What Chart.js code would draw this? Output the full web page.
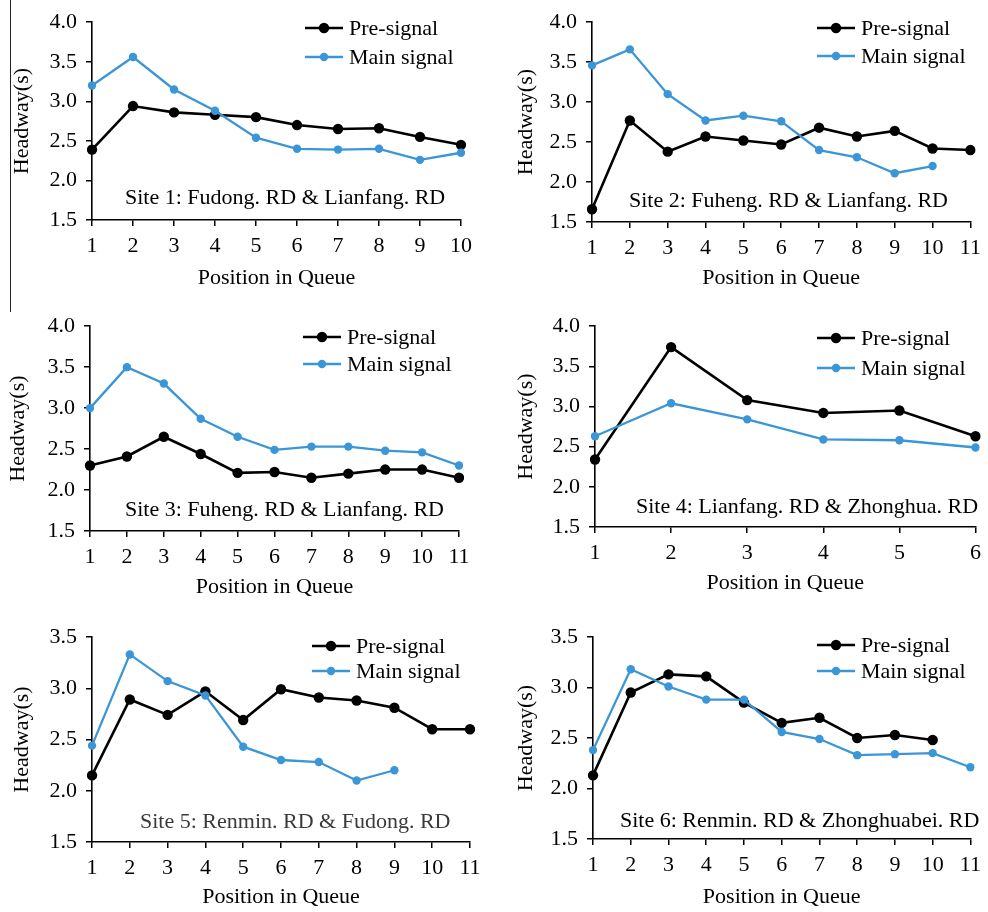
<!DOCTYPE html>
<html>
<head>
<meta charset="utf-8">
<title>Headway by queue position at six pre-signal sites</title>
<script src="https://cdn.jsdelivr.net/npm/chart.js@4/dist/chart.umd.min.js"></script>
<style>
  html, body { margin: 0; padding: 0; background: #fff; }
  #page { position: relative; width: 988px; height: 912px; overflow: hidden; background: #fff; }
  .cell { position: absolute; width: 494px; height: 304px; }
  .cell canvas { display: block; }
  #edge { position: absolute; left: 10px; top: 0; width: 1px; height: 312px; background: #222; }
</style>
</head>
<body>
<div id="page">
  <div id="edge"></div>
  <div class="cell" style="left:0;top:0"><canvas id="c1" width="494" height="304"></canvas></div>
  <div class="cell" style="left:494px;top:0"><canvas id="c2" width="494" height="304"></canvas></div>
  <div class="cell" style="left:0;top:304px"><canvas id="c3" width="494" height="304"></canvas></div>
  <div class="cell" style="left:494px;top:304px"><canvas id="c4" width="494" height="304"></canvas></div>
  <div class="cell" style="left:0;top:608px"><canvas id="c5" width="494" height="304"></canvas></div>
  <div class="cell" style="left:494px;top:608px"><canvas id="c6" width="494" height="304"></canvas></div>
</div>
<script>
// Queue positions (x-axis categories)
const queue6  = ['1', '2', '3', '4', '5', '6'];
const queue10 = ['1', '2', '3', '4', '5', '6', '7', '8', '9', '10'];
const queue11 = ['1', '2', '3', '4', '5', '6', '7', '8', '9', '10', '11'];

// Mean headway (s) per queue position
const site1Pre  = [2.39, 2.94, 2.86, 2.83, 2.80, 2.70, 2.65, 2.66, 2.55, 2.45];
const site1Main = [3.20, 3.56, 3.15, 2.88, 2.54, 2.40, 2.39, 2.40, 2.26, 2.35];

const site2Pre  = [1.66, 2.77, 2.38, 2.57, 2.52, 2.47, 2.68, 2.57, 2.64, 2.42, 2.40];
const site2Main = [3.46, 3.66, 3.10, 2.77, 2.83, 2.76, 2.40, 2.31, 2.11, 2.20];

const site3Pre  = [2.30, 2.41, 2.65, 2.44, 2.21, 2.22, 2.15, 2.20, 2.25, 2.25, 2.15];
const site3Main = [3.00, 3.50, 3.30, 2.87, 2.65, 2.49, 2.53, 2.53, 2.48, 2.46, 2.30];

const site4Pre  = [2.34, 3.74, 3.08, 2.92, 2.95, 2.63];
const site4Main = [2.63, 3.04, 2.84, 2.59, 2.58, 2.49];

const site5Pre  = [2.15, 2.89, 2.74, 2.97, 2.69, 2.99, 2.91, 2.88, 2.81, 2.60, 2.60];
const site5Main = [2.44, 3.33, 3.07, 2.93, 2.43, 2.30, 2.28, 2.10, 2.20];

const site6Pre  = [2.13, 2.95, 3.13, 3.11, 2.85, 2.65, 2.70, 2.50, 2.53, 2.48];
const site6Main = [2.38, 3.18, 3.01, 2.88, 2.88, 2.56, 2.49, 2.33, 2.34, 2.35, 2.21];

// Site names
const siteNames = [
  'Site 1: Fudong. RD & Lianfang. RD',
  'Site 2: Fuheng. RD & Lianfang. RD',
  'Site 3: Fuheng. RD & Lianfang. RD',
  'Site 4: Lianfang. RD & Zhonghua. RD',
  'Site 5: Renmin. RD & Fudong. RD',
  'Site 6: Renmin. RD & Zhonghuabei. RD'
];

const seriesNames = ['Pre-signal', 'Main signal'];
const xTitle = 'Position in Queue';
const yTitle = 'Headway(s)';

const FAMILY = "'Liberation Serif', 'Times New Roman', Times, serif";
const FONT_SIZE = 22;
const LINE_H = FONT_SIZE * 1.2;
const W = 494, H = 304, XH = 72;
const BLUE = '#3a96d6';

// Layout of each panel: plot area box (canvas px), legend spot, site-name spot
const panels = [
  { id: 'c1', labels: queue10, pre: site1Pre, main: site1Main, name: siteNames[0], yMax: 4.0,
    box: { l: 92, t: 17, r: 461, b: 220 }, xTitleOff: 58, yTitleX: 22,
    legend: { x: 305, y: [28, 57] }, note: { x: 125, y: 198, color: '#000' } },
  { id: 'c2', labels: queue11, pre: site2Pre, main: site2Main, name: siteNames[1], yMax: 4.0,
    box: { l: 98, t: 17, r: 480, b: 222 }, xTitleOff: 56, yTitleX: 32,
    legend: { x: 323, y: [28, 56] }, note: { x: 135, y: 201, color: '#000' } },
  { id: 'c3', labels: queue11, pre: site3Pre, main: site3Main, name: siteNames[2], yMax: 4.0,
    box: { l: 90, t: 22, r: 459, b: 227 }, xTitleOff: 56, yTitleX: 18,
    legend: { x: 303, y: [33, 60] }, note: { x: 125, y: 206, color: '#000' } },
  { id: 'c4', labels: queue6, pre: site4Pre, main: site4Main, name: siteNames[3], yMax: 4.0,
    box: { l: 101, t: 22, r: 487, b: 223 }, xTitleOff: 56, yTitleX: 32,
    legend: { x: 323, y: [34, 64] }, note: { x: 142, y: 203, color: '#000' } },
  { id: 'c5', labels: queue11, pre: site5Pre, main: site5Main, name: siteNames[4], yMax: 3.5,
    box: { l: 92, t: 29, r: 470, b: 234 }, xTitleOff: 55, yTitleX: 22,
    legend: { x: 312, y: [38, 63] }, note: { x: 140, y: 214, color: '#3a3a3a' } },
  { id: 'c6', labels: queue11, pre: site6Pre, main: site6Main, name: siteNames[5], yMax: 3.5,
    box: { l: 99, t: 29, r: 480, b: 231 }, xTitleOff: 58, yTitleX: 32,
    legend: { x: 323, y: [37, 63] }, note: { x: 126, y: 213, color: '#000' } }
];

// Legend entries (line + dot + label) and the site name inside the plot
const overlay = {
  id: 'overlay',
  afterDatasetsDraw(chart, args, opts) {
    const ctx = chart.ctx;
    ctx.save();
    ctx.font = FONT_SIZE + 'px ' + FAMILY;
    ctx.textBaseline = 'middle';
    ctx.textAlign = 'left';
    chart.data.datasets.forEach((ds, i) => {
      const y = opts.legend.y[i];
      const x0 = opts.legend.x;
      ctx.strokeStyle = ds.borderColor;
      ctx.lineWidth = ds.borderWidth;
      ctx.beginPath();
      ctx.moveTo(x0, y);
      ctx.lineTo(x0 + 38, y);
      ctx.stroke();
      ctx.fillStyle = ds.pointBackgroundColor;
      ctx.beginPath();
      ctx.arc(x0 + 19, y, ds.pointRadius, 0, Math.PI * 2);
      ctx.fill();
      ctx.fillStyle = '#000';
      ctx.fillText(ds.label, x0 + 44, y + 1);
    });
    ctx.fillStyle = opts.note.color;
    ctx.fillText(opts.name, opts.note.x, opts.note.y);
    ctx.restore();
  }
};

const font = { family: FAMILY, size: FONT_SIZE };

panels.forEach(p => {
  const ctx = document.getElementById(p.id).getContext('2d');
  new Chart(ctx, {
    type: 'line',
    data: {
      labels: p.labels,
      datasets: [
        { label: seriesNames[0], data: p.pre, order: 1,
          borderColor: '#000', backgroundColor: '#000', pointBackgroundColor: '#000',
          borderWidth: 2.6, pointRadius: 5.2, pointHoverRadius: 5.2, pointBorderWidth: 0,
          tension: 0, fill: false },
        { label: seriesNames[1], data: p.main, order: 0,
          borderColor: BLUE, backgroundColor: BLUE, pointBackgroundColor: BLUE,
          borderWidth: 2.3, pointRadius: 4.2, pointHoverRadius: 4.2, pointBorderWidth: 0,
          tension: 0, fill: false }
      ]
    },
    options: {
      responsive: false,
      animation: false,
      events: [],
      layout: { padding: { top: p.box.t, right: W - p.box.r, bottom: H - p.box.b - XH, left: 0 } },
      plugins: {
        legend: { display: false },
        tooltip: { enabled: false },
        overlay: { legend: p.legend, note: p.note, name: p.name }
      },
      scales: {
        x: {
          type: 'category',
          offset: false,
          grid: { display: true, drawOnChartArea: false, drawTicks: true, tickLength: 6, color: '#000', lineWidth: 1.5 },
          border: { display: true, color: '#000', width: 1.6 },
          ticks: { color: '#000', font: font, padding: 7, maxRotation: 0, autoSkip: false },
          title: { display: true, text: xTitle, color: '#000', font: font,
                   padding: { top: 0, bottom: XH - p.xTitleOff - LINE_H / 2 } },
          afterFit(scale) { scale.height = XH; }
        },
        y: {
          min: 1.5,
          max: p.yMax,
          grid: { display: true, drawOnChartArea: false, drawTicks: true, tickLength: 6, color: '#000', lineWidth: 1.5 },
          border: { display: true, color: '#000', width: 1.6 },
          ticks: { stepSize: 0.5, color: '#000', font: font, padding: 9,
                   callback: v => Number(v).toFixed(1) },
          title: { display: true, text: yTitle, color: '#000', font: font,
                   padding: { top: p.yTitleX - LINE_H / 2, bottom: 0 } },
          afterFit(scale) { scale.width = p.box.l; }
        }
      }
    },
    plugins: [overlay]
  });
});
</script>
</body>
</html>
